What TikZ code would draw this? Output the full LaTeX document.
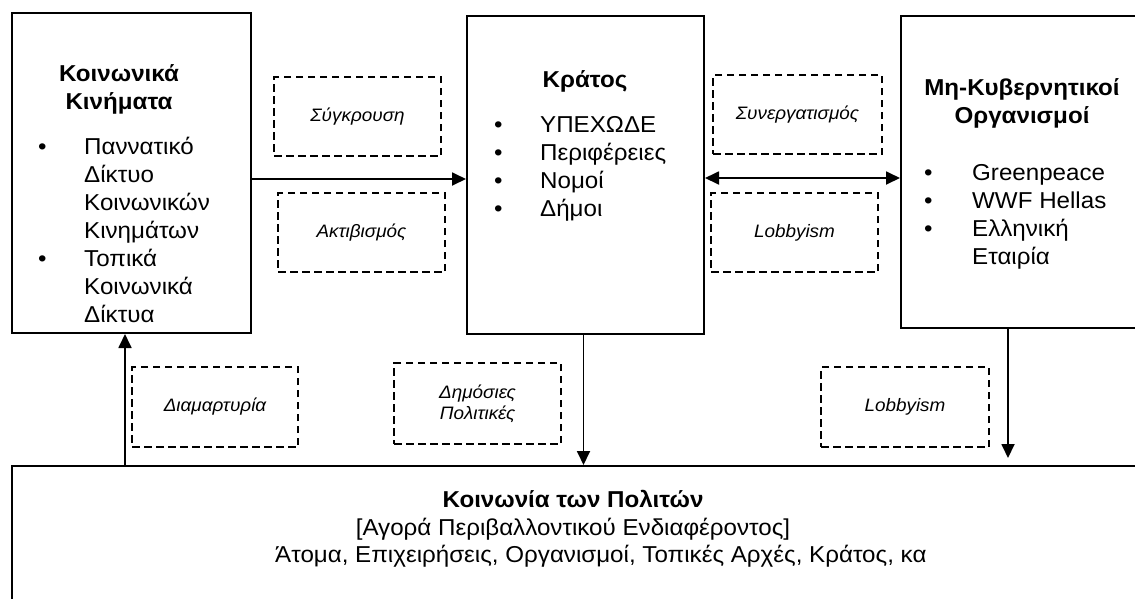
\documentclass[tikz,border=0pt]{standalone}
\usepackage{fontspec}
\setmainfont[FakeStretch=1.05]{Liberation Sans}
\usetikzlibrary{arrows.meta,calc}

\tikzset{
  plaisio/.style={draw, line width=2pt, inner sep=0pt},
  diakekomeno/.style={draw, line width=1.8pt, dash pattern=on 7.5pt off 4.5pt, inner sep=0pt,
    font=\fontsize{18}{21}\selectfont\itshape, align=center},
  velos/.style={line width=1.8pt, -{Triangle[length=14pt,width=13pt]}},
  diplovelos/.style={line width=1.8pt, {Triangle[length=14pt,width=13pt]}-{Triangle[length=14pt,width=13pt]}},
  keimeno/.style={inner sep=0pt, font=\fontsize{23}{28}\selectfont},
  titlos/.style={inner sep=0pt, font=\fontsize{23}{28}\selectfont\bfseries},
}

\begin{document}
\begin{tikzpicture}[x=1pt, y=-1pt]
    \path[use as bounding box, clip] (0,0) rectangle (1135,598);
    %%Πλαίσια
    \node[plaisio, minimum width=239pt, minimum height=320pt] (kinimata) at (131.5,173) {};
    \node[plaisio, minimum width=237pt, minimum height=318pt] (kratos) at (585.5,175) {};
    \node[plaisio, minimum width=280pt, minimum height=312pt] (mko) at (1041,172) {};
    \node[plaisio, minimum width=1200pt, minimum height=200pt] (koinonia) at (612,566) {};
    %%Κοινωνικά Κινήματα
    \node[titlos, anchor=base] (kintitlos) at (119,81)
        {\begin{tabular}[t]{@{}c@{}}Κοινωνικά\\Κινήματα\end{tabular}};
    \node[keimeno, anchor=base west] (kinlista) at (38,154)
        {\begin{tabular}[t]{@{}p{46pt}@{}l@{}}
        \textbullet & Παννατικό\\ & Δίκτυο\\ & Κοινωνικών\\ & Κινημάτων\\
        \textbullet & Τοπικά\\ & Κοινωνικά\\ & Δίκτυα
        \end{tabular}};
    %%Κράτος
    \node[titlos, anchor=base] (krtitlos) at (585,87) {Κράτος};
    \node[keimeno, anchor=base west] (krlista) at (494,132)
        {\begin{tabular}[t]{@{}p{46pt}@{}l@{}}
        \textbullet & ΥΠΕΧΩΔΕ\\ \textbullet & Περιφέρειες\\
        \textbullet & Νομοί\\ \textbullet & Δήμοι
        \end{tabular}};
    %%ΜΚΟ
    \node[titlos, anchor=base] (mkotitlos) at (1022,95)
        {\begin{tabular}[t]{@{}c@{}}Μη-Κυβερνητικοί\\Οργανισμοί\end{tabular}};
    \node[keimeno, anchor=base west] (mkolista) at (924,180)
        {\begin{tabular}[t]{@{}p{48pt}@{}l@{}}
        \textbullet & Greenpeace\\ \textbullet & WWF Hellas\\
        \textbullet & Ελληνική\\ & Εταιρία
        \end{tabular}};
    %%Κοινωνία των Πολιτών
    \node[titlos, anchor=base] (koitilos) at (573,507) {Κοινωνία των Πολιτών};
    \node[keimeno, anchor=base] (agora) at (573,535) {[Αγορά Περιβαλλοντικού Ενδιαφέροντος]};
    \node[keimeno, anchor=base west] (atoma) at (275,562)
        {Άτομα, Επιχειρήσεις, Οργανισμοί, Τοπικές Αρχές, Κράτος, κα};
    %%Διακεκομμένα πλαίσια
    \node[diakekomeno, minimum width=167pt, minimum height=79pt] (sygkrousi) at (357.5,116.5) {Σύγκρουση};
    \node[diakekomeno, minimum width=167pt, minimum height=79pt] (aktivismos) at (361.5,232.5) {Ακτιβισμός};
    \node[diakekomeno, minimum width=169pt, minimum height=79pt] (synergasia) at (797.5,114.5) {Συνεργατισμός};
    \node[diakekomeno, minimum width=167pt, minimum height=79pt] (lobbyA) at (794.5,232.5) {Lobbyism};
    \node[diakekomeno, minimum width=166pt, minimum height=80pt] (diamartyria) at (215,407) {Διαμαρτυρία};
    \node[diakekomeno, minimum width=167pt, minimum height=81pt] (dimosies) at (477.5,403.5) {Δημόσιες\\Πολιτικές};
    \node[diakekomeno, minimum width=168pt, minimum height=80pt] (lobbyB) at (905,407) {Lobbyism};
    %%Βέλη
    \draw[velos] ([yshift=-6pt]kinimata.east) -- ([yshift=-6pt]kinimata.east -| kratos.west);
    \draw[diplovelos] ([yshift=-3pt]kratos.east) -- ([yshift=-3pt]kratos.east -| mko.west);
    \draw[velos] ([xshift=-2pt]kratos.south) -- ([xshift=-2pt]kratos.south |- koinonia.north);
    \draw[velos, shorten >=7pt] ([xshift=108pt]mko.south west) -- ([xshift=108pt]mko.south west |- koinonia.north);
    \draw[velos] ([xshift=114pt]koinonia.north west) -- ([xshift=114pt]koinonia.north west |- kinimata.south);
\end{tikzpicture}
\end{document}
